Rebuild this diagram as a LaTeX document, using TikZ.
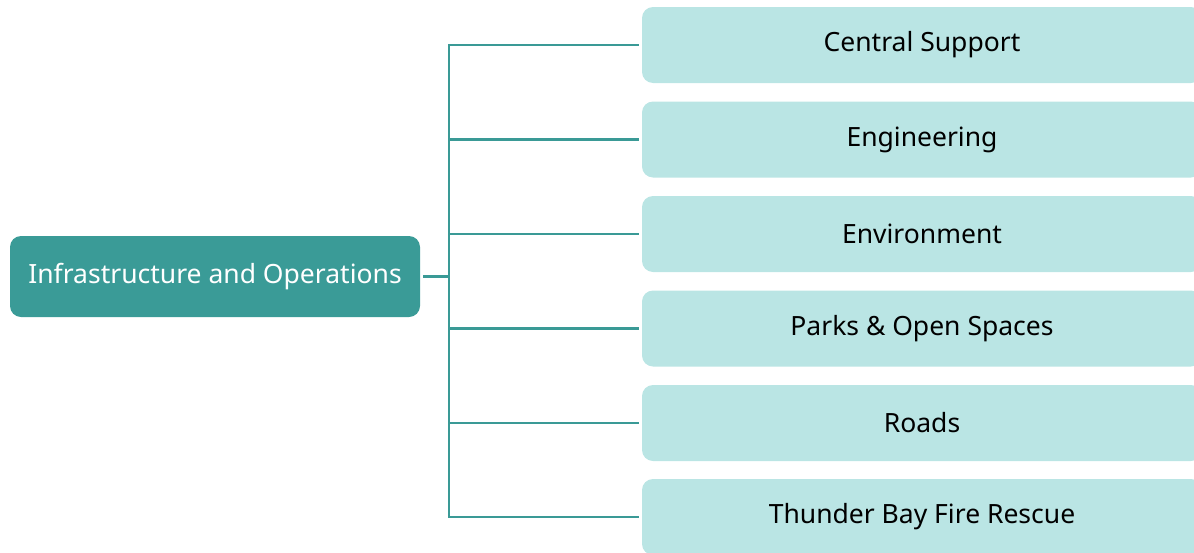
\documentclass[tikz,border=0pt]{standalone}
\usepackage{fontspec}
\setmainfont{Noto Sans}
\definecolor{teal1}{HTML}{3A9B97}
\definecolor{light1}{HTML}{BAE5E4}
\definecolor{line1}{HTML}{3A9A96}
\begin{document}
\begin{tikzpicture}[x=1pt,y=-1pt,
  rootbox/.style={fill=teal1, rounded corners=11pt, minimum width=410pt, minimum height=81pt, inner sep=0pt, text=white, font=\fontsize{26.5}{31}\selectfont},
  childbox/.style={fill=light1, rounded corners=11pt, minimum width=560pt, minimum height=76pt, inner sep=0pt, text=black, font=\fontsize{26.5}{31}\selectfont},
  conn/.style={draw=line1, line width=2.8pt, shorten >=3pt}]
\useasboundingbox (0,0) rectangle (1194,552);
\clip (0,0) rectangle (1194,552);
\node[rootbox] (root) at (215,276.5) {Infrastructure and Operations};
\node[childbox] (c1) at (922,45) {Central Support};
\node[childbox] (c2) at (922,139.5) {Engineering};
\node[childbox] (c3) at (922,234) {Environment};
\node[childbox] (c4) at (922,328.5) {Parks \& Open Spaces};
\node[childbox] (c5) at (922,423) {Roads};
\node[childbox] (c6) at (922,517) {Thunder Bay Fire Rescue};
\coordinate (hub) at (449,276.5);
\draw[conn, shorten <=3pt, shorten >=0pt] (root.east) -- (hub);
\foreach \n in {c1,c2,c3,c4,c5,c6} {
  \draw[conn] (hub) |- (\n.west);
}
\end{tikzpicture}
\end{document}
